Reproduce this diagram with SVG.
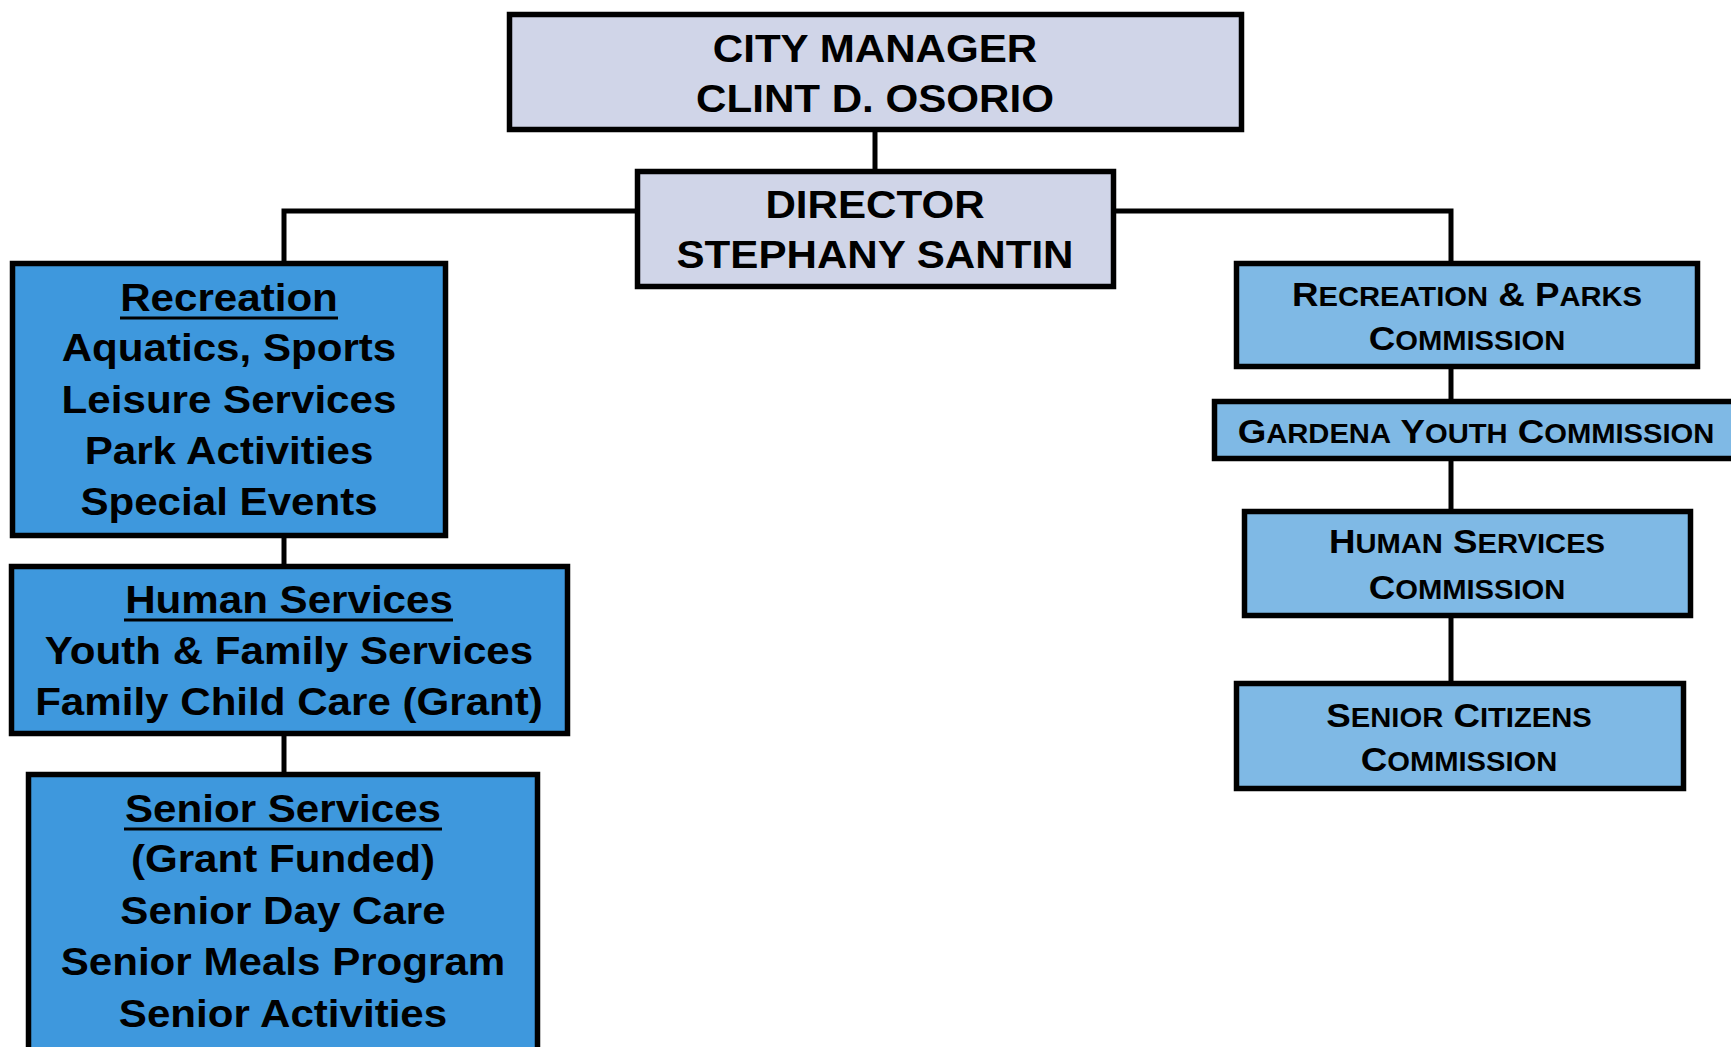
<svg xmlns="http://www.w3.org/2000/svg" width="1731" height="1047" viewBox="0 0 1731 1047">
<style>
.box{stroke:#000;stroke-width:5.5}
.top{fill:#D0D5E8}
.dept{fill:#3E98DD}
.comm{fill:#7FB9E5}
.conn{stroke:#000;stroke-width:5;fill:none}
text{font-family:"Liberation Sans",Arial,sans-serif;font-weight:bold;fill:#000;text-anchor:middle}
.t1{font-size:39px}
.t2{font-size:39px}
.cap{font-size:34px}
.sm{font-size:27px}
.ul{stroke:#000;stroke-width:3}
</style>
<g id="connectors">
<line class="conn" x1="875" y1="130" x2="875" y2="171"/>
<polyline class="conn" points="284,263 284,211 637,211"/>
<polyline class="conn" points="1114,211 1451,211 1451,263"/>
<line class="conn" x1="284" y1="536" x2="284" y2="566"/>
<line class="conn" x1="284" y1="734" x2="284" y2="774"/>
<line class="conn" x1="1451" y1="367" x2="1451" y2="401"/>
<line class="conn" x1="1451" y1="459" x2="1451" y2="511"/>
<line class="conn" x1="1451" y1="616" x2="1451" y2="683"/>
</g>
<g id="city-manager">
<rect class="box top" x="509.5" y="14.5" width="732" height="115"/>
<g transform="translate(875,0) scale(1.08,1)">
<text class="t1" x="0" y="62">CITY MANAGER</text>
<text class="t1" x="0" y="112">CLINT D. OSORIO</text>
</g>
</g>
<g id="director">
<rect class="box top" x="637.5" y="171.5" width="476" height="115"/>
<g transform="translate(875,0) scale(1.08,1)">
<text class="t1" x="0" y="218">DIRECTOR</text>
<text class="t1" x="0" y="268">STEPHANY SANTIN</text>
</g>
</g>
<g id="recreation">
<rect class="box dept" x="12.5" y="263.5" width="433" height="272"/>
<g transform="translate(229,0) scale(1.08,1)">
<text class="t2" x="0" y="311">Recreation</text>
<text class="t2" x="0" y="361">Aquatics, Sports</text>
<text class="t2" x="0" y="413">Leisure Services</text>
<text class="t2" x="0" y="464">Park Activities</text>
<text class="t2" x="0" y="515">Special Events</text>
</g>
<line class="ul" x1="120" y1="318" x2="338" y2="318"/>
</g>
<g id="human-services">
<rect class="box dept" x="11.5" y="566.5" width="556" height="167"/>
<g transform="translate(289,0) scale(1.08,1)">
<text class="t2" x="0" y="613">Human Services</text>
<text class="t2" x="0" y="664">Youth &amp; Family Services</text>
<text class="t2" x="0" y="715">Family Child Care (Grant)</text>
</g>
<line class="ul" x1="124" y1="620" x2="453" y2="620"/>
</g>
<g id="senior-services">
<rect class="box dept" x="28.5" y="774.5" width="509" height="290"/>
<g transform="translate(283,0) scale(1.08,1)">
<text class="t2" x="0" y="822">Senior Services</text>
<text class="t2" x="0" y="872">(Grant Funded)</text>
<text class="t2" x="0" y="924">Senior Day Care</text>
<text class="t2" x="0" y="975">Senior Meals Program</text>
<text class="t2" x="0" y="1027">Senior Activities</text>
</g>
<line class="ul" x1="124" y1="829" x2="442" y2="829"/>
</g>
<g id="rec-parks-commission">
<rect class="box comm" x="1236.5" y="263.5" width="461" height="103"/>
<g transform="translate(1467,0) scale(1.08,1)">
<text x="0" y="306"><tspan class="cap">R</tspan><tspan class="sm">ECREATION</tspan><tspan class="cap"> &amp; P</tspan><tspan class="sm">ARKS</tspan></text>
<text x="0" y="350"><tspan class="cap">C</tspan><tspan class="sm">OMMISSION</tspan></text>
</g>
</g>
<g id="gardena-youth-commission">
<rect class="box comm" x="1214.5" y="401.5" width="530" height="57"/>
<g transform="translate(1476,0) scale(1.08,1)">
<text x="0" y="443"><tspan class="cap">G</tspan><tspan class="sm">ARDENA</tspan><tspan class="cap"> Y</tspan><tspan class="sm">OUTH</tspan><tspan class="cap"> C</tspan><tspan class="sm">OMMISSION</tspan></text>
</g>
</g>
<g id="human-services-commission">
<rect class="box comm" x="1244.5" y="511.5" width="446" height="104"/>
<g transform="translate(1467,0) scale(1.08,1)">
<text x="0" y="553"><tspan class="cap">H</tspan><tspan class="sm">UMAN</tspan><tspan class="cap"> S</tspan><tspan class="sm">ERVICES</tspan></text>
<text x="0" y="599"><tspan class="cap">C</tspan><tspan class="sm">OMMISSION</tspan></text>
</g>
</g>
<g id="senior-citizens-commission">
<rect class="box comm" x="1236.5" y="683.5" width="447" height="105"/>
<g transform="translate(1459,0) scale(1.08,1)">
<text x="0" y="727"><tspan class="cap">S</tspan><tspan class="sm">ENIOR</tspan><tspan class="cap"> C</tspan><tspan class="sm">ITIZENS</tspan></text>
<text x="0" y="771"><tspan class="cap">C</tspan><tspan class="sm">OMMISSION</tspan></text>
</g>
</g>
</svg>
